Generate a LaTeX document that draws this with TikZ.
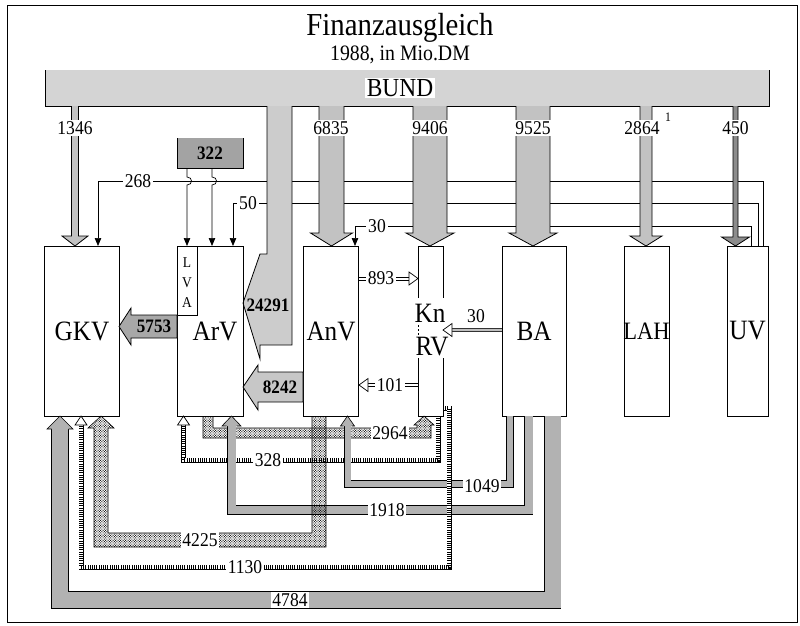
\documentclass[tikz,border=0pt]{standalone}
\usepackage{fontspec}
\setmainfont{Liberation Serif}[FakeStretch=0.9]
\usetikzlibrary{patterns,arrows.meta}
\pgfdeclarepatternformonly{fdots}{\pgfpoint{-0.5pt}{-0.5pt}}{\pgfpoint{3pt}{3pt}}{\pgfpoint{2.5pt}{2.5pt}}{%
  \pgfpathcircle{\pgfpoint{0.625pt}{0.625pt}}{0.62pt}%
  \pgfpathcircle{\pgfpoint{1.875pt}{1.875pt}}{0.62pt}%
  \pgfusepath{fill}}
\newcommand\dnarrow[5]{%
  \draw[grayfill,fill=#5] (#1-#2,106) -- (#1-#2,#4) -- (#1-#3,#4) -- (#1,246) -- (#1+#3,#4) -- (#1+#2,#4) -- (#1+#2,106);}
\newcommand\dbl[3]{% x1, x2, y : horizontal double line
  \draw[thinl] (#1,#3-1.6) -- (#2,#3-1.6);
  \draw[thinl] (#1,#3+1.6) -- (#2,#3+1.6);}
\begin{document}
\begin{tikzpicture}[x=1pt,y=-1pt,
  boxst/.style={draw, line width=0.9pt, inner sep=0pt},
  blab/.style={font=\fontsize{28}{28}\selectfont, inner sep=0pt},
  num/.style={font=\fontsize{19.5}{19.5}\selectfont, inner sep=1.8pt, fill=white},
  bnum/.style={font=\bfseries\fontsize{19}{19}\selectfont, inner sep=0.5pt},
  thinl/.style={line width=0.7pt},
  tarrow/.style={thinl, -{Triangle[width=6.5pt,length=8pt]}},
  grayfill/.style={draw, line width=0.8pt, fill=black!24},
  gband/.style={draw=black, line width=0.6pt, double=black!30, double distance=#1},
  rail/.style={line width=5pt, draw=black,
    postaction={draw=white, line width=3.6pt},
    postaction={draw=black, line width=3.6pt, dash pattern=on 0.6pt off 1.6pt}},
  dotband/.style={draw, line width=0.6pt, pattern=fdots},
  hollow/.style={draw, fill=white, line width=0.7pt}
]
\useasboundingbox (0,0) rectangle (800,626);
\draw[line width=1pt] (7,6) rectangle (797,622);
\node[font=\fontsize{32}{32}\selectfont] (title) at (400,28) {Finanzausgleich};
\node[font=\fontsize{22}{22}\selectfont] (sub) at (400,55) {1988, in Mio.DM};

% BUND bar
\fill[black!17] (45,70) rectangle (769,106);
\draw[line width=0.9pt] (45,70) -- (45,106) -- (769,106) -- (769,70);
\node[fill=white, inner sep=1.5pt, font=\fontsize{26}{26}\selectfont] (BUND) at (400,88) {BUND};

% thin transfer lines from UV
\draw[tarrow] (763,246) -- (763,181) -- (98,181) -- (98,246);
\draw[tarrow] (758,246) -- (758,203) -- (233,203) -- (233,246);
\draw[tarrow] (751,246) -- (751,226) -- (355,226) -- (355,246);
\node[num] (l268) at (138,181) {268};
\node[num] (l50) at (248,203) {50};
\node[num] (l30a) at (377,226) {30};

% 322 box
\fill[black!36] (177,138) rectangle (243,168);
\draw[line width=0.9pt] (177,138) -- (177,168) -- (243,168) -- (243,138);
\node[bnum] (l322) at (210,153) {322};
\draw[tarrow] (187,168) -- (187,177) .. controls (193,177) and (193,185) .. (187,185) -- (187,246);
\draw[tarrow] (212,168) -- (212,177) .. controls (218,177) and (218,185) .. (212,185) -- (212,246);

% down arrows from BUND
\dnarrow{75}{3.5}{13}{236}{black!24}
\dnarrow{331.5}{12.5}{21}{233}{black!24}
\dnarrow{430}{17}{24}{233}{black!24}
\dnarrow{533}{17}{24}{233}{black!24}
\dnarrow{646}{6}{16}{236}{black!24}
\dnarrow{735.5}{2.5}{14}{237}{black!45}
\node[num] (l1346) at (75,128) {1346};
\node[num] (l6835) at (331,128) {6835};
\node[num] (l9406) at (430,128) {9406};
\node[num] (l9525) at (533,128) {9525};
\node[num] (l2864) at (642,128) {2864};
\node[font=\fontsize{13}{13}\selectfont, inner sep=0pt] (sup1) at (668,117) {1};
\node[num] (l450) at (735.5,128) {450};

% 24291
\draw[grayfill, fill=black!20] (267,106) -- (267,254) -- (260,254) -- (243,303) -- (260,359) -- (260,345) -- (292,345) -- (292,106);
\node[bnum] (l24291) at (268,305) {24291};

% boxes
\node[boxst, minimum width=75pt, minimum height=170pt] (GKV) at (81.5,331) {};
\node[boxst, minimum width=66pt, minimum height=170pt] (ArV) at (210,331) {};
\node[boxst, minimum width=20pt, minimum height=69pt] (LVA) at (187,280.5) {};
\node[boxst, minimum width=55pt, minimum height=170pt] (AnV) at (330.5,331) {};
\node[boxst, minimum width=64pt, minimum height=170pt] (BA) at (534,331) {};
\node[boxst, minimum width=45pt, minimum height=170pt] (LAH) at (646.5,331) {};
\node[boxst, minimum width=41pt, minimum height=170pt] (UV) at (747.5,331) {};
\node[blab] (tGKV) at (82,331) {GKV};
\node[blab] (tArV) at (215,331) {ArV};
\node[blab] (tAnV) at (331,331) {AnV};
\node[blab] (tBA) at (534,331) {BA};
\node[blab, font=\fontsize{25}{25}\selectfont] (tLAH) at (646.5,331) {LAH};
\node[blab] (tUV) at (747.5,331) {UV};
\node[font=\fontsize{15}{15}\selectfont, inner sep=0pt] (tL) at (187,263) {L};
\node[font=\fontsize{15}{15}\selectfont, inner sep=0pt] (tV) at (187,283) {V};
\node[font=\fontsize{15}{15}\selectfont, inner sep=0pt] (tA) at (187,303) {A};
% KnRV
\draw[line width=0.9pt] (418,298) -- (418,246) -- (443,246) -- (443,298);
\draw[line width=0.9pt] (418,358) -- (418,416) -- (443,416) -- (443,358);
\draw[thinl, dash pattern=on 2pt off 2pt] (418,325) -- (418,338);
\node[blab, anchor=base] (tKn) at (430,322) {Kn};
\node[blab, anchor=base] (tRV) at (432,355) {RV};

% horizontal transfers between boxes
\draw[grayfill, fill=black!34] (119,326.5) -- (131,308) -- (131,315) -- (177,315) -- (177,338) -- (131,338) -- (131,345) -- cycle;
\node[bnum] (l5753) at (154,326.5) {5753};
\draw[grayfill, fill=black!22] (243,387) -- (258,365) -- (258,372) -- (303,372) -- (303,402) -- (258,402) -- (258,410) -- cycle;
\node[bnum] (l8242) at (280,387) {8242};

\dbl{358}{410}{278.5}
\draw[hollow] (409,272) -- (418,278.5) -- (409,285) -- cycle;
\node[num] (l893) at (381,278.5) {893};
\dbl{367}{418}{385}
\draw[hollow] (368,378.5) -- (359,385) -- (368,391.5) -- cycle;
\node[num] (l101) at (390,385) {101};
\draw[line width=0.7pt, draw=black!80, double=black!25, double distance=1.8pt] (502,330) -- (451,330);
\draw[hollow] (452,323.5) -- (443,330) -- (452,336.5) -- cycle;
\node[font=\fontsize{19.5}{19.5}\selectfont] (l30b) at (476,316) {30};

% bottom flows
\draw[dotband] (203,416) -- (203,438) -- (431,438) -- (431,425) -- (434,425) -- (424,416) -- (414,425) -- (417,425) -- (417,428) -- (213,428) -- (213,416);
\draw[rail] (438,416) -- (438,460) -- (183.5,460) -- (183.5,425);
\draw[hollow] (177.5,425) -- (183.5,416) -- (189.5,425) -- cycle;

\draw[gband=8pt] (528.5,416) -- (528.5,510) -- (231.5,510) -- (231.5,426);
\draw[grayfill, fill=black!30, line width=0.6pt] (226.5,426) -- (222,426) -- (231.5,416) -- (241,426) -- (236.5,426);
\draw[gband=6pt] (510,416) -- (510,484) -- (347.5,484) -- (347.5,426);
\draw[grayfill, fill=black!30, line width=0.6pt] (343.5,426) -- (340.5,426) -- (347.5,416) -- (354.5,426) -- (351.5,426);
\draw[gband=16pt] (552.5,416) -- (552.5,600) -- (60,600) -- (60,429);
\draw[grayfill, fill=black!30, line width=0.6pt] (51.5,429) -- (47,429) -- (60,416) -- (73,429) -- (68.5,429);

\draw[dotband] (312,416) -- (312,533) -- (108,533) -- (108,428) -- (114,428) -- (101,416) -- (88,428) -- (94,428) -- (94,547) -- (326,547) -- (326,416);
\draw[rail] (443,408) -- (449,408) -- (449,567) -- (81,567) -- (81,425);
\draw[hollow] (75,425) -- (81,416) -- (87,425) -- cycle;

\node[num] (l2964) at (390,433) {2964};
\node[num] (l328) at (268,460) {328};
\node[num] (l1049) at (482,486) {1049};
\node[num] (l1918) at (387,510) {1918};
\node[num] (l4225) at (200,540) {4225};
\node[num] (l1130) at (245,567) {1130};
\node[num] (l4784) at (290,600) {4784};
\end{tikzpicture}
\end{document}
